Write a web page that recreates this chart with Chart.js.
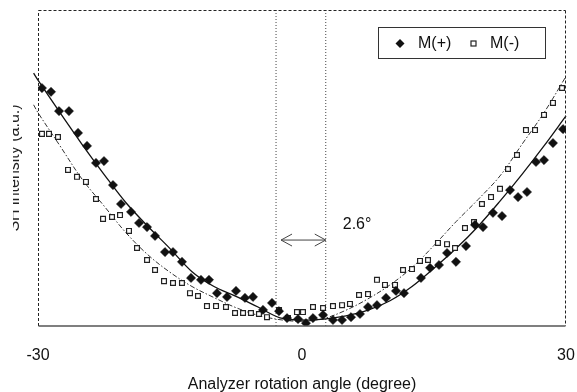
<!DOCTYPE html>
<html>
<head>
<meta charset="utf-8">
<script src="https://cdn.jsdelivr.net/npm/chart.js"></script>
<style>
  html, body { margin: 0; padding: 0; background: #fff; }
  #wrap { width: 577px; height: 392px; }
</style>
</head>
<body>
<div id="wrap"><canvas id="chart" width="577" height="392"></canvas></div>
<script>
// measured points, M(+)
const plusX = [-29.55, -28.52, -27.61, -26.48, -25.45, -24.43, -23.41, -22.5, -21.48, -20.57, -19.43, -18.52, -17.61, -16.7, -15.57, -14.66, -13.64, -12.61, -11.48, -10.57, -9.66, -8.52, -7.5, -6.48, -5.57, -4.43, -3.41, -2.61, -1.7, -0.45, 0.45, 1.25, 2.39, 3.52, 4.55, 5.57, 6.59, 7.5, 8.52, 9.55, 10.68, 11.59, 13.52, 14.55, 15.57, 16.48, 17.5, 18.64, 19.66, 20.57, 21.7, 22.73, 23.64, 24.55, 25.57, 26.59, 27.5, 28.52, 29.66];
const plusY = [75.3, 74.1, 68.0, 68.0, 61.1, 57.0, 51.6, 52.2, 44.6, 38.6, 36.1, 32.6, 31.3, 28.5, 23.4, 23.4, 20.3, 15.2, 14.6, 14.6, 10.4, 9.2, 11.1, 8.9, 9.2, 5.1, 7.3, 4.7, 2.5, 2.2, 0.9, 2.5, 3.5, 1.9, 1.9, 2.8, 3.8, 6.0, 6.6, 8.9, 11.1, 10.4, 15.2, 18.4, 19.3, 23.1, 20.3, 25.3, 32.0, 31.3, 35.8, 34.8, 43.0, 40.8, 42.4, 51.9, 52.5, 57.9, 62.3];

// measured points, M(-)
const minusX = [-29.55, -28.75, -27.73, -26.59, -25.57, -24.55, -23.41, -22.61, -21.59, -20.68, -19.66, -18.75, -17.61, -16.7, -15.68, -14.66, -13.64, -12.73, -11.82, -10.8, -9.77, -8.64, -7.61, -6.7, -5.8, -4.89, -3.98, -2.61, -1.59, -0.57, 0.11, 1.25, 2.39, 3.52, 4.55, 5.45, 6.48, 7.5, 8.52, 9.43, 10.57, 11.48, 12.5, 13.41, 14.32, 15.45, 16.48, 17.39, 18.52, 19.55, 20.45, 21.48, 22.5, 23.41, 24.43, 25.45, 26.48, 27.5, 28.52, 29.55];
const minusY = [60.8, 60.8, 59.8, 49.4, 47.2, 45.6, 40.2, 33.9, 34.5, 35.1, 30.1, 24.7, 20.9, 17.7, 14.2, 13.6, 13.6, 10.4, 9.5, 6.3, 6.3, 6.0, 4.1, 4.1, 4.1, 3.8, 2.8, 5.1, 2.5, 4.4, 4.4, 6.0, 5.7, 6.3, 6.6, 7.0, 9.8, 10.1, 14.6, 13.0, 13.0, 17.7, 18.0, 20.6, 20.9, 26.3, 25.9, 24.7, 31.0, 32.9, 38.6, 40.8, 43.4, 49.7, 54.1, 62.0, 62.0, 66.8, 70.6, 75.3];

// fitted curves
const fitX = [-30.5, -30, -27.5, -25, -22.5, -20, -17.5, -15, -12.5, -10, -7.5, -5, -2.5, 0, 2.5, 5, 7.5, 10, 12.5, 15, 17.5, 20, 22.5, 25, 27.5, 30, 30.4];
const fitPlus = [80, 77.8, 67.5, 57.5, 48, 39, 31.5, 24.5, 17.2, 12.5, 9.4, 6, 2.6, 1.9, 2.2, 3.2, 5, 8, 12.5, 18.3, 24.5, 31.5, 39.5, 48, 57, 66.5, 68];
const fitMinus = [70, 67.5, 57, 46.5, 38, 29.5, 22.5, 17, 12.5, 9, 5.8, 3.4, 2, 1.5, 2.4, 5, 8.6, 13, 18.5, 25.5, 33, 40, 47.5, 57.5, 67.5, 79, 81];

// the two vertical guide lines and the gap label
const guideX = [-2.95, 2.7];
const gapLabel = '2.6°';
const xTicks = [-30, 0, 30];
const seriesNames = ['M(+)', 'M(-)'];

const pts = (xs, ys) => xs.map((x, i) => ({ x: x, y: ys[i] }));

const frame = {
  id: 'frame',
  afterDatasetsDraw(chart) {
    const { ctx, chartArea: a, scales } = chart;
    const sx = scales.x, sy = scales.y;
    const L = Math.round(sx.getPixelForValue(sx.min)) + 0.5;
    const R = Math.round(sx.getPixelForValue(sx.max)) - 0.5;
    const T = Math.round(sy.getPixelForValue(sy.max)) + 0.5;
    const B = sy.getPixelForValue(sy.min);
    ctx.save();
    // plot border, dashed on three sides
    ctx.strokeStyle = '#222';
    ctx.lineWidth = 1;
    ctx.setLineDash([3, 2]);
    ctx.beginPath();
    ctx.moveTo(L, B); ctx.lineTo(L, T);
    ctx.stroke();
    ctx.beginPath();
    ctx.moveTo(L, T); ctx.lineTo(R, T);
    ctx.stroke();
    ctx.beginPath();
    ctx.moveTo(R, T); ctx.lineTo(R, B);
    ctx.stroke();
    ctx.setLineDash([]);
    ctx.strokeStyle = '#555';
    ctx.lineWidth = 1.5;
    ctx.beginPath();
    ctx.moveTo(L, B);
    ctx.lineTo(R, B);
    ctx.stroke();

    // double arrow between guides
    const x1 = sx.getPixelForValue(guideX[0]) + 5;
    const x2 = sx.getPixelForValue(guideX[1]);
    const y = sy.getPixelForValue(27.2);
    ctx.strokeStyle = '#444';
    ctx.lineWidth = 1;
    ctx.beginPath();
    ctx.moveTo(x1, y); ctx.lineTo(x2, y);
    ctx.moveTo(x1 + 11, y - 6); ctx.lineTo(x1, y); ctx.lineTo(x1 + 11, y + 6);
    ctx.moveTo(x2 - 11, y - 6); ctx.lineTo(x2, y); ctx.lineTo(x2 - 11, y + 6);
    ctx.stroke();
    ctx.fillStyle = '#111';
    ctx.font = '16px "Liberation Sans", Arial, sans-serif';
    ctx.textBaseline = 'middle';
    ctx.textAlign = 'left';
    ctx.fillText(gapLabel, x2 + 17, y - 15);

    // legend box
    const bx = 378, by = 27, bw = 167, bh = 31;
    ctx.fillStyle = '#fff';
    ctx.fillRect(bx, by, bw, bh);
    ctx.strokeStyle = '#333';
    ctx.lineWidth = 1;
    ctx.strokeRect(bx + 0.5, by + 0.5, bw, bh);
    const cy = by + bh / 2 + 1;
    ctx.fillStyle = '#111';
    ctx.beginPath();
    ctx.moveTo(400, cy - 4.5); ctx.lineTo(404.5, cy); ctx.lineTo(400, cy + 4.5); ctx.lineTo(395.5, cy);
    ctx.closePath();
    ctx.fill();
    ctx.fillText(seriesNames[0], 418, cy);
    ctx.strokeStyle = '#222';
    ctx.lineWidth = 1.2;
    ctx.strokeRect(471, cy - 2.5, 5, 5);
    ctx.fillText(seriesNames[1], 490, cy);

    // y-axis title, cut at the left edge as in the scan
    ctx.beginPath();
    ctx.rect(13, 0, 20, chart.height);
    ctx.clip();
    ctx.translate(19, (a.top + a.bottom) / 2);
    ctx.rotate(-Math.PI / 2);
    ctx.textAlign = 'center';
    ctx.textBaseline = 'alphabetic';
    ctx.fillStyle = '#222';
    ctx.fillText('SH intensity (a.u.)', 0, 0);
    ctx.restore();
  }
};

new Chart(document.getElementById('chart'), {
  type: 'scatter',
  data: {
    datasets: [
      {
        label: seriesNames[0],
        data: pts(plusX, plusY),
        pointStyle: 'rectRot',
        pointRadius: 4.6,
        backgroundColor: '#111',
        borderColor: '#111',
        borderWidth: 0.5
      },
      {
        label: seriesNames[1],
        data: pts(minusX, minusY),
        pointStyle: 'rect',
        pointRadius: 3.4,
        backgroundColor: '#fff',
        borderColor: '#222',
        borderWidth: 1.2
      },
      {
        label: 'fit+',
        data: pts(fitX, fitPlus),
        showLine: true,
        pointRadius: 0,
        borderColor: '#111',
        borderWidth: 1.3,
        tension: 0.35,
        clip: { left: 6, top: 0, right: 5, bottom: 0 }
      },
      {
        label: 'fit-',
        data: pts(fitX, fitMinus),
        showLine: true,
        pointRadius: 0,
        borderColor: '#333',
        borderWidth: 1,
        borderDash: [5, 2, 1.5, 2],
        tension: 0.35,
        clip: { left: 6, top: 0, right: 5, bottom: 0 }
      },
      ...guideX.map(gx => ({
        label: 'guide',
        data: [{ x: gx, y: 0 }, { x: gx, y: 100 }],
        showLine: true,
        pointRadius: 0,
        borderColor: '#444',
        borderWidth: 1,
        borderDash: [1, 2]
      }))
    ]
  },
  options: {
    responsive: false,
    animation: false,
    layout: { padding: { left: 38, right: 11, top: 10, bottom: 0 } },
    plugins: { legend: { display: false }, tooltip: { enabled: false } },
    scales: {
      x: {
        type: 'linear',
        min: -30,
        max: 30,
        afterBuildTicks: s => { s.ticks = xTicks.map(v => ({ value: v })); },
        afterFit: s => { s.height = 66; s.paddingLeft = 0; s.paddingRight = 0; },
        grid: { display: false, drawTicks: false },
        border: { display: false },
        ticks: {
          padding: 20,
          color: '#111',
          font: { family: '"Liberation Sans", Arial, sans-serif', size: 16 },
          maxRotation: 0
        },
        title: {
          display: true,
          text: 'Analyzer rotation angle (degree)',
          color: '#111',
          font: { family: '"Liberation Sans", Arial, sans-serif', size: 16 },
          padding: { top: 0, bottom: -2 }
        }
      },
      y: {
        display: false,
        min: 0,
        max: 100
      }
    }
  },
  plugins: [frame]
});
</script>
</body>
</html>
